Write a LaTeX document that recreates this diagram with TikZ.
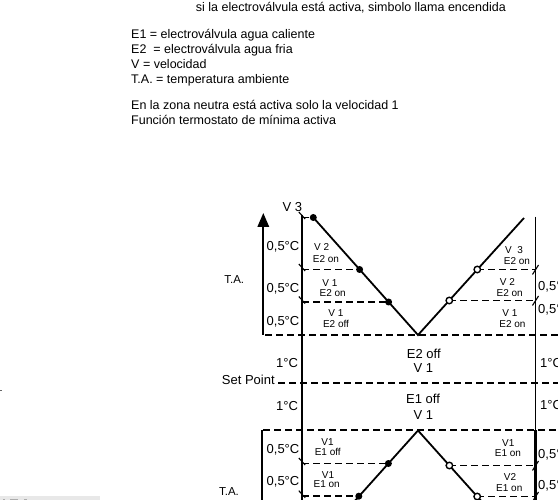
\documentclass[tikz,border=0pt]{standalone}
\usepackage{fontspec}
\setmainfont{Liberation Sans}
\usetikzlibrary{arrows.meta}
\begin{document}
\begin{tikzpicture}[x=1pt,y=-1pt,
  axl/.style={line width=1.8pt},
  dsh/.style={line width=1.8pt, dash pattern=on 7pt off 4pt},
  vline/.style={line width=1.8pt},
  fdot/.style={circle, fill=black, inner sep=0pt, minimum size=7pt},
  odot/.style={circle, draw=black, fill=white, line width=1.4pt, inner sep=0pt, minimum size=6.5pt},
  tk/.style={line width=1.1pt},
  hd/.style={anchor=base west, inner sep=0pt, font=\fontsize{12.5}{15}\selectfont},
  deg/.style={inner sep=0pt, font=\fontsize{13}{15}\selectfont},
  degr/.style={deg, anchor=west},
  sm/.style={inner sep=0pt, font=\fontsize{10}{12}\selectfont},
  md/.style={inner sep=0pt, font=\fontsize{13}{14.5}\selectfont},
  tal/.style={inner sep=0pt, font=\fontsize{11.5}{13}\selectfont},
]
\useasboundingbox (0,0) rectangle (558,500);
\clip (0,0) rectangle (558,500);
\fill[white] (0,0) rectangle (558,500);

% crop artifacts
\fill[gray!18] (0,496) rectangle (100,500);
\fill[gray!65] (3,498.8) rectangle (5,500);
\fill[gray!65] (10,498.5) rectangle (18,500);
\fill[gray!65] (24,498.5) rectangle (27,500);
\fill[gray!80!black] (0,390) rectangle (2,391.5);

% header text
\node[hd] (t0) at (195.7,11.3) {si la electroválvula está activa, simbolo llama encendida};
\node[hd] (t1) at (131,39) {E1 = electroválvula agua caliente};
\node[hd] (t2) at (131,54) {E2\ \ = electroválvula agua fria};
\node[hd] (t3) at (131,68.5) {V = velocidad};
\node[hd] (t4) at (131,84) {T.A. = temperatura ambiente};
\node[hd] (t5) at (131,110) {En la zona neutra está activa solo la velocidad 1};
\node[hd] (t6) at (131,124.5) {Función termostato de mínima activa};

% coordinates
\coordinate (axT) at (302,215);
\coordinate (axB) at (302,505);
\coordinate (raT) at (535.5,216.7);
\coordinate (raM) at (535.5,430);
\coordinate (raB) at (535.5,505);
\coordinate (arB) at (263.3,335);
\coordinate (arT) at (263.3,213);
\coordinate (lbT) at (262.3,430);
\coordinate (lbB) at (262.3,505);

\coordinate (h1a) at (265,335);   \coordinate (h1b) at (560,335);
\coordinate (h2a) at (278,383);   \coordinate (h2b) at (560,383);
\coordinate (h3a) at (263,430);   \coordinate (h3b) at (560,430);

\coordinate (uv) at (418,335);
\coordinate (p0) at (313.3,217.5);
\coordinate (urT) at (524,218);
\coordinate (p1) at (359.6,269.5);
\coordinate (p2) at (388.6,302);
\coordinate (q1) at (477.3,269.5);
\coordinate (q2) at (449.3,300.5);

\coordinate (lv) at (418,430.5);
\coordinate (llE) at (337.7,520);
\coordinate (lrE) at (498.3,520);
\coordinate (r1) at (388.4,463.5);
\coordinate (r2) at (358.8,496.2);
\coordinate (s1) at (449.4,465.5);
\coordinate (s2) at (477.2,496.5);

\coordinate (a0) at (302,217.5);
\coordinate (a1) at (302,269.5);
\coordinate (a2) at (302,302);
\coordinate (b1) at (535.5,269.5);
\coordinate (b2) at (535.5,300.5);
\coordinate (a3) at (302,463.5);
\coordinate (a4) at (302,496.2);
\coordinate (b3) at (535.5,465.5);
\coordinate (b4) at (535.5,496.5);

% dashed lines
\draw[dsh] (h1a) -- (h1b);
\draw[dsh] (h2a) -- (h2b);
\draw[dsh] (h3a) -- (h3b);
\draw[dsh] (a0) -- (p0);
\draw[dsh] (a1) -- (p1);
\draw[dsh] (a2) -- (p2);
\draw[dsh] (q1) -- (b1);
\draw[dsh] (q2) -- (b2);
\draw[dsh] (a3) -- (r1);
\draw[dsh] (a4) -- (r2);
\draw[dsh] (s1) -- (b3);
\draw[dsh] (s2) -- (b4);

% axes
\draw[axl] (axT) -- (axB);
\draw[axl] (raT) -- (raM);
\draw[line width=2.1pt] (raM) -- (raB);
\draw[axl,-{Triangle[length=14pt,width=11.5pt]}] (arB) -- (arT);
\draw[line width=2pt] (lbT) -- (lbB);

% ticks
\foreach \yy in {217.5,269.5,302,463.5,496.2}{
  \draw[tk] (298.8,\yy-5.5) -- (305.2,\yy+1.5);
}
\foreach \yy in {269.5,300.5,465.5,496.5}{
  \draw[tk] (532.5,\yy+5) -- (538.5,\yy-4.5);
}

% V shapes
\draw[vline] (p0) -- (uv) -- (urT);
\draw[vline] (llE) -- (lv) -- (lrE);

% dots
\node[fdot] (d0) at (p0) {};
\node[fdot] (d1) at (p1) {};
\node[fdot] (d2) at (p2) {};
\node[odot] (c1) at (q1) {};
\node[odot] (c2) at (q2) {};
\node[fdot] (e1) at (r1) {};
\node[fdot] (e2) at (r2) {};
\node[odot] (f1) at (s1) {};
\node[odot] (f2) at (s2) {};

% axis labels
\node[deg] (v3) at (292.3,207.3) {V 3};
\node[tal] (ta1) at (234.2,280) {T.A.};
\node[tal] (ta2) at (229,491.7) {T.A.};
\node[md] (sp) at (248.3,380) {Set Point};

\node[deg] (l1) at (283,246.7) {0,5°C};
\node[deg] (l2) at (283,289) {0,5°C};
\node[deg] (l3) at (283,321.7) {0,5°C};
\node[deg] (l4) at (287,362.7) {1°C};
\node[deg] (l5) at (287,406) {1°C};
\node[deg] (l6) at (283,450) {0,5°C};
\node[deg] (l7) at (283,481.7) {0,5°C};

\node[degr] (m1) at (538,286.7) {0,5°C};
\node[degr] (m2) at (538,310) {0,5°C};
\node[degr] (m3) at (540,363.3) {1°C};
\node[degr] (m4) at (540,405) {1°C};
\node[degr] (m5) at (538,455) {0,5°C};
\node[degr] (m6) at (538,485.7) {0,5°C};

% middle labels
\node[md] (n1) at (423.8,354) {E2 off};
\node[md] (n2) at (423.3,368) {V 1};
\node[md] (n3) at (423,399.3) {E1 off};
\node[md] (n4) at (423.3,415) {V 1};

% small labels upper left
\node[sm] (u1) at (321.7,246.7) {V 2};
\node[sm] (u2) at (326,259.3) {E2 on};
\node[sm] (u3) at (330,282.7) {V 1};
\node[sm] (u4) at (332.7,293.3) {E2 on};
\node[sm] (u5) at (336,313.3) {V 1};
\node[sm] (u6) at (336,324) {E2 off};
% upper right
\node[sm] (w1) at (514,250) {V\ \ 3};
\node[sm] (w2) at (517,260.7) {E2 on};
\node[sm] (w3) at (507.5,281.7) {V 2};
\node[sm] (w4) at (509.7,292.7) {E2 on};
\node[sm] (w5) at (510,313) {V 1};
\node[sm] (w6) at (512.5,324) {E2 on};
% lower left
\node[sm] (x1) at (327.5,441.7) {V1};
\node[sm] (x2) at (327.8,451.7) {E1 off};
\node[sm] (x3) at (328,475) {V1};
\node[sm] (x4) at (326.7,484.3) {E1 on};
% lower right
\node[sm] (z1) at (508.3,443.3) {V1};
\node[sm] (z2) at (508,453.3) {E1 on};
\node[sm] (z3) at (510,476.7) {V2};
\node[sm] (z4) at (509.3,488.3) {E1 on};
\end{tikzpicture}
\end{document}
